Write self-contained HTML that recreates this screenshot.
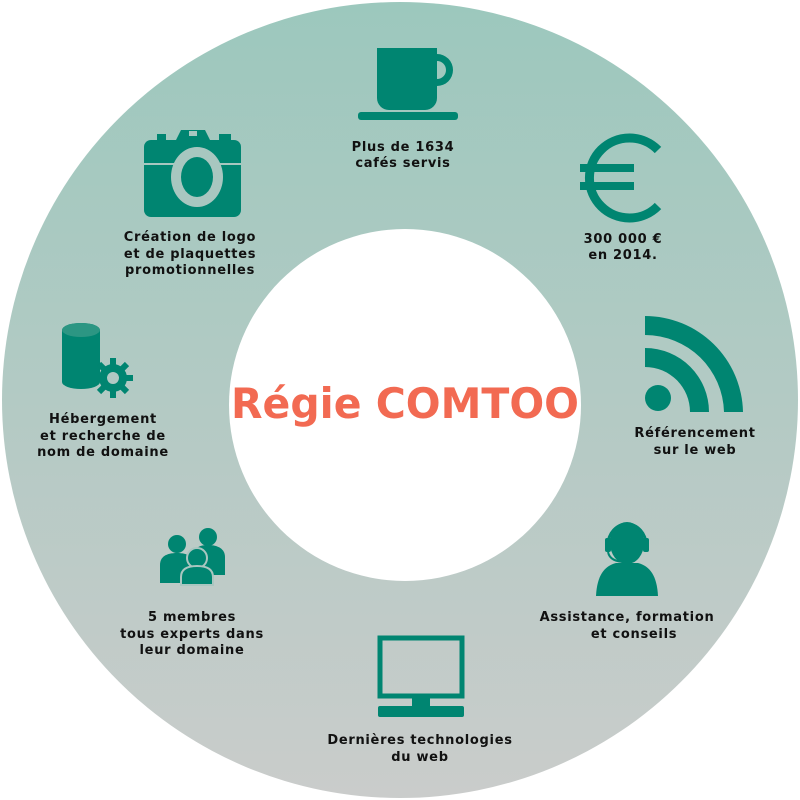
<!DOCTYPE html>
<html><head><meta charset="utf-8"><style>html,body{margin:0;padding:0;background:#fff}svg{display:block}</style></head><body>
<svg width="800" height="800" viewBox="0 0 800 800" xmlns="http://www.w3.org/2000/svg">
<defs><linearGradient id="g" x1="0" y1="0" x2="0" y2="1"><stop offset="0" stop-color="#9cc8bd"/><stop offset="1" stop-color="#cacccb"/></linearGradient></defs>
<circle cx="400" cy="400" r="398" fill="url(#g)"/>
<circle cx="405" cy="405" r="176" fill="#fff"/>
<text x="405" y="418" text-anchor="middle" font-family="DejaVu Sans, Liberation Sans, sans-serif" font-weight="bold" font-size="42" fill="#f26a52" textLength="348" lengthAdjust="spacingAndGlyphs">Régie COMTOO</text>
<g fill="#008571">
<path d="M377 48h60v50a12 12 0 0 1-12 12h-36a12 12 0 0 1-12-12z"/>
<path d="M437 54a16 16 0 0 1 0 32v-7a9 9 0 0 0 0-18z"/>
<rect x="358" y="112" width="100" height="8" rx="3"/>
<path d="M658 150a40 40 0 1 0 0 56" fill="none" stroke="#008571" stroke-width="9"/>
<rect x="580" y="164" width="54" height="8"/><rect x="580" y="182" width="54" height="8"/>
<circle cx="658" cy="398" r="13"/>
<path d="M645 316a98 98 0 0 1 98 96h-19a79 79 0 0 0-79-77z"/>
<path d="M645 348a64 64 0 0 1 64 64h-19a45 45 0 0 0-45-45z"/>
<ellipse cx="627" cy="543" rx="17" ry="21"/>
<path d="M596 596c1-20 8-30 20-33h22c12 3 19 13 20 33z"/>
<path d="M608 545a19 21 0 0 1 38 0" fill="none" stroke="#008571" stroke-width="3"/>
<rect x="605" y="538" width="6" height="14" rx="2"/><rect x="643" y="538" width="6" height="14" rx="2"/>
<path d="M608 552q2 10 18 10" fill="none" stroke="#008571" stroke-width="2"/>
<rect x="380" y="638" width="82" height="58" fill="none" stroke="#008571" stroke-width="5"/>
<rect x="412" y="698" width="18" height="8"/>
<rect x="378" y="706" width="86" height="11" rx="2"/>
<circle cx="177" cy="544" r="9"/><circle cx="208" cy="537" r="9"/>
<path d="M160 583v-18c0-8 6-12 17-12s17 4 17 12v18z"/>
<path d="M193 575v-18c0-8 5-12 15-12s17 4 17 12v18z"/>
<circle cx="197" cy="558" r="10" stroke="#aac6c0" stroke-width="2"/>
<path d="M181 585v-8c0-8 6-11 16-11s16 3 16 11v8z" stroke="#aac6c0" stroke-width="2"/>
<path d="M62 330a19 7 0 0 1 38 0v52a19 7 0 0 1-38 0z"/>
<ellipse cx="81" cy="330" rx="19" ry="7" fill="#2c9683"/>
<circle cx="113" cy="378" r="14"/>
<g stroke="#008571" stroke-width="6"><path d="M113 358v40M93 378h40M99 364l28 28M127 364l-28 28"/></g>
<circle cx="113" cy="378" r="6" fill="#b0c9c4"/>
<rect x="144" y="140" width="97" height="77" rx="7"/>
<path d="M176 140l5-10h24l5 10z"/>
<rect x="157" y="134" width="9" height="6"/><rect x="219" y="134" width="12" height="6"/>
<rect x="144" y="163" width="97" height="2" fill="#a8c7c0"/>
<ellipse cx="197" cy="177" rx="26" ry="30" fill="#a8c7c0"/>
<ellipse cx="197" cy="177" rx="16" ry="20"/>
</g>
<rect x="189" y="131" width="8" height="5" fill="#a8c7c0"/>
<g font-family="DejaVu Sans, Liberation Sans, sans-serif" font-weight="bold" font-size="13" letter-spacing="0.7" fill="#111" text-anchor="middle" xml:space="preserve">
<text x="403" y="151">Plus de  1634</text><text x="403" y="167">cafés servis</text>
<text x="623" y="243">300 000 €</text><text x="623" y="259">en 2014.</text>
<text x="695" y="437">Référencement</text><text x="695" y="454">sur le web</text>
<text x="627" y="621">Assistance, formation</text><text x="634" y="638">et conseils</text>
<text x="420" y="744">Dernières technologies</text><text x="420" y="761">du web</text>
<text x="192" y="621">5 membres</text><text x="192" y="638">tous experts dans</text><text x="192" y="654">leur domaine</text>
<text x="103" y="423">Hébergement</text><text x="103" y="440">et recherche de</text><text x="103" y="456">nom de domaine</text>
<text x="190" y="241">Création de logo</text><text x="190" y="258">et de plaquettes</text><text x="190" y="274">promotionnelles</text>
</g>
</svg>
</body></html>
